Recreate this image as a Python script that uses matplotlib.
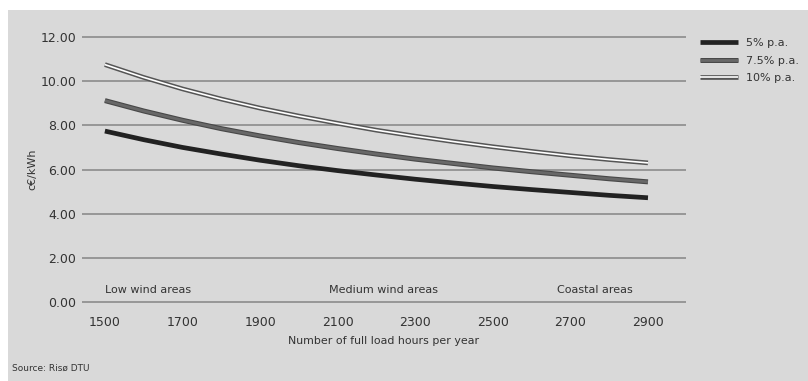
import matplotlib
matplotlib.use("Agg")
import matplotlib.pyplot as plt
from matplotlib.patches import Rectangle
import matplotlib.patheffects as pe

hours = [1500, 1600, 1700, 1800, 1900, 2000, 2100, 2200, 2300, 2400, 2500, 2600, 2700, 2800, 2900]
rate_5 = [7.74, 7.35, 7.00, 6.70, 6.42, 6.17, 5.95, 5.75, 5.56, 5.39, 5.23, 5.09, 4.96, 4.83, 4.72]
rate_75 = [9.12, 8.65, 8.23, 7.85, 7.52, 7.22, 6.95, 6.70, 6.47, 6.27, 6.07, 5.90, 5.74, 5.58, 5.44]
rate_10 = [10.75, 10.17, 9.65, 9.19, 8.78, 8.42, 8.09, 7.78, 7.51, 7.26, 7.03, 6.82, 6.62, 6.45, 6.30]
labels = ["5% p.a.", "7.5% p.a.", "10% p.a."]
xticks = [1500, 1700, 1900, 2100, 2300, 2500, 2700, 2900]
yticks = [0, 2, 4, 6, 8, 10, 12]
areas = ["Low wind areas", "Medium wind areas", "Coastal areas"]
area_x = [1500, 2077, 2665]

W, H = 808, 381
fig = plt.figure(figsize=(W / 100, H / 100), dpi=100, facecolor="white")
fig.patches.append(Rectangle((8 / W, 0), 1, 1 - 10 / H, transform=fig.transFigure,
                             facecolor="#d9d9d9", edgecolor="none", zorder=-10))

ax = fig.add_axes([82 / W, 1 - 313.04 / H, 604 / W, 287.08 / H])
ax.set_facecolor("none")
ax.set_xlim(1441, 2998)
ax.set_ylim(-0.5, 12.5)
for s in ax.spines.values():
    s.set_visible(False)

for y in yticks:
    ax.axhline(y, color="#858585", lw=1.1, zorder=1)

txt = "#333333"
ax.set_yticks(yticks)
ax.set_yticklabels([f"{v:.2f}" for v in yticks])
ax.set_xticks(xticks)
ax.set_xticklabels([str(v) for v in xticks])
ax.tick_params(axis="both", length=0, labelsize=9, labelcolor=txt)
ax.tick_params(axis="y", pad=4)
ax.tick_params(axis="x", pad=2)

ax.plot(hours, rate_5, color="#222222", lw=3.4, solid_capstyle="butt", label=labels[0], zorder=3)
ax.plot(hours, rate_75, color="#686868", lw=2.0, solid_capstyle="butt", label=labels[1], zorder=3,
        path_effects=[pe.Stroke(linewidth=3.6, foreground="#484848"), pe.Normal()])
ax.plot(hours, rate_10, color="white", lw=1.2, solid_capstyle="butt", label=labels[2], zorder=3,
        path_effects=[pe.Stroke(linewidth=3.4, foreground="#555555"), pe.Normal()])

for name, xv in zip(areas, area_x):
    ax.text(xv, 0.55, name, fontsize=8, color=txt, ha="left", va="center")

ax.set_xlabel("Number of full load hours per year", fontsize=7.9, color=txt, labelpad=5)
ax.set_ylabel("c€/kWh", fontsize=8, color=txt, labelpad=2)

leg = ax.legend(loc="upper left", bbox_to_anchor=(700 / W, 1 - 38 / H), bbox_transform=fig.transFigure,
                frameon=False, fontsize=8, handlelength=3.4, handletextpad=0.75, labelspacing=0.68,
                borderaxespad=0, borderpad=0)
for t in leg.get_texts():
    t.set_color(txt)

fig.text(12 / W, 1 - 368 / H, "Source: Risø DTU", fontsize=6.5, color=txt, ha="left", va="center")

fig.savefig("out.png", dpi=100, facecolor="white")
